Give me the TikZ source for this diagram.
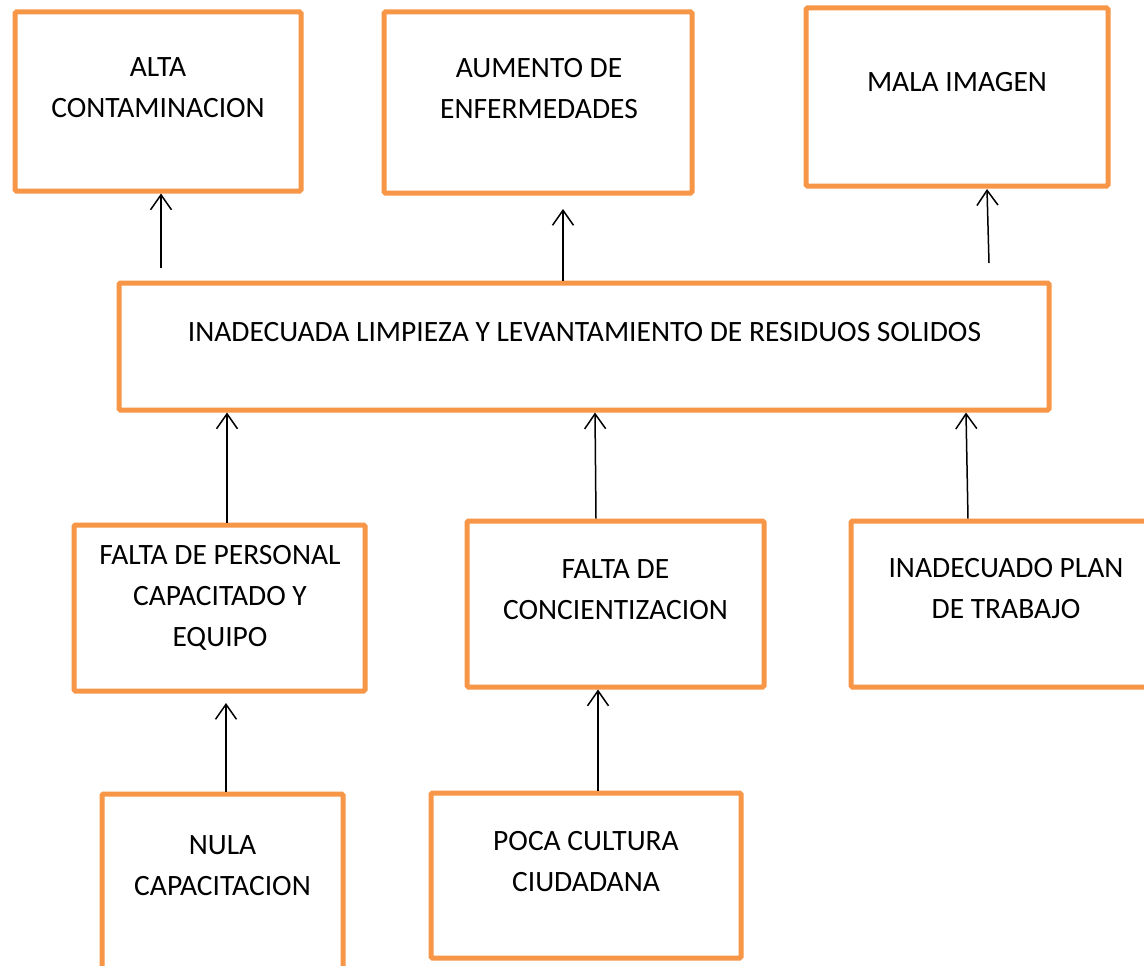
\documentclass[tikz,border=0pt]{standalone}
\usepackage{fontspec}
\setmainfont{Carlito}
\usetikzlibrary{arrows.meta}
\definecolor{boxorange}{HTML}{F79646}
\tikzset{
  box/.style={draw=boxorange, line width=5pt, rounded corners=1.5pt, inner sep=0pt, fill=white},
  lbl/.style={align=center, font=\fontsize{29.5}{41}\selectfont, inner sep=0pt},
  arr/.style={draw=black, line width=1.5pt, -{Straight Barb[length=15pt,width=21pt,line width=1.5pt]}}
}
\begin{document}
\begin{tikzpicture}[x=1pt,y=-1pt]
\useasboundingbox (0,0) rectangle (1144,966);
\clip (0,0) rectangle (1144,966);
\fill[white] (0,0) rectangle (1144,966);
% boxes
\node[box, minimum width=286pt, minimum height=179pt] (b1) at (158,101.5) {};
\node[box, minimum width=308pt, minimum height=181pt] (b2) at (538,102.5) {};
\node[box, minimum width=302pt, minimum height=178pt] (b3) at (957,97) {};
\node[box, minimum width=930pt, minimum height=127pt] (m) at (584,346.5) {};
\node[box, minimum width=291pt, minimum height=166pt] (b4) at (219.5,608) {};
\node[box, minimum width=297pt, minimum height=166pt] (b5) at (615.5,604) {};
\node[box, minimum width=299pt, minimum height=166pt] (b6) at (1000.5,604) {};
\node[box, minimum width=241pt, minimum height=196pt] (b7) at (222.5,892) {};
\node[box, minimum width=310pt, minimum height=165pt] (b8) at (586,875.5) {};
% labels
\node[lbl] (t1) at (158,88) {ALTA\\CONTAMINACION};
\node[lbl] (t2) at (539,89) {AUMENTO DE\\ENFERMEDADES};
\node[lbl] (t3) at (957,82) {MALA IMAGEN};
\node[lbl] (tm) at (584.5,332) {INADECUADA LIMPIEZA Y LEVANTAMIENTO DE RESIDUOS SOLIDOS};
\node[lbl] (t4) at (220,598) {FALTA DE PERSONAL\\CAPACITADO Y\\EQUIPO};
\node[lbl] (t5) at (615.5,590) {FALTA DE\\CONCIENTIZACION};
\node[lbl] (t6) at (1006,589) {INADECUADO PLAN\\DE TRABAJO};
\node[lbl] (t7) at (222.5,866) {NULA\\CAPACITACION};
\node[lbl] (t8) at (586,862) {POCA CULTURA\\CIUDADANA};
% free ends
\coordinate (a1s) at (161,268);
\coordinate (a2t) at (563,209);
\coordinate (a3s) at (989,263);
\coordinate (a3t) at (987,189);
\coordinate (a7t) at (226,703);
% arrows
\draw[arr] (a1s) -- (a1s |- b1.south);
\draw[arr] (m.north -| a2t) -- (a2t);
\draw[arr] (a3s) -- (a3t);
\draw[arr] (b4.north -| 227,0) -- (m.south -| 227,0);
\draw[arr] (b5.north -| 596,0) -- ([xshift=-1pt]m.south -| 596,0);
\draw[arr] (b6.north -| 968,0) -- ([xshift=-2pt]m.south -| 968,0);
\draw[arr] (b7.north -| a7t) -- (a7t);
\draw[arr] (b8.north -| 598,0) -- (b5.south -| 598,0);
\end{tikzpicture}
\end{document}
